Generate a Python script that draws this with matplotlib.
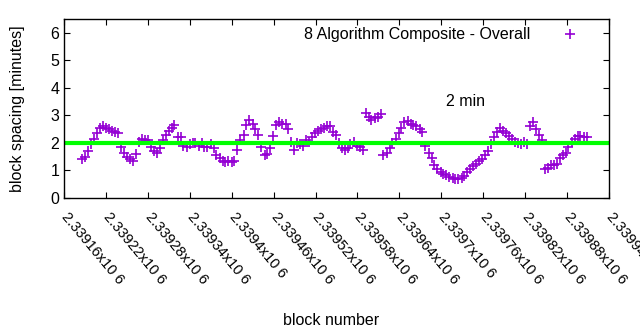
import numpy as np
import matplotlib
matplotlib.use('Agg')
import matplotlib.pyplot as plt

# block spacing values (minutes), left to right
spacing = [
    1.40, 1.50, 1.70, 1.95, 2.15, 2.35, 2.55, 2.60, 2.55, 2.50,
    2.45, 2.40, 2.35, 1.85, 1.65, 1.50, 1.40, 1.35, 1.60, 2.05,
    2.15, 2.10, 2.10, 1.85, 1.70, 1.65, 1.80, 2.10, 2.30, 2.45,
    2.55, 2.65, 2.20, 2.20, 1.90, 1.85, 1.95, 2.00, 2.00, 1.90,
    2.00, 1.85, 1.85, 1.95, 1.80, 1.55, 1.45, 1.35, 1.30, 1.35,
    1.30, 1.35, 1.75, 2.10, 2.30, 2.65, 2.85, 2.70, 2.50, 2.30,
    1.85, 1.55, 1.60, 1.80, 2.25, 2.65, 2.75, 2.70, 2.70, 2.50,
    2.05, 1.75, 2.00, 1.95, 1.90, 2.10, 2.05, 2.20, 2.35, 2.45,
    2.50, 2.55, 2.60, 2.60, 2.40, 2.30, 2.00, 1.80, 1.75, 1.80,
    1.95, 2.05, 1.90, 1.85, 1.75, 3.10, 2.95, 2.85, 2.90, 2.95,
    3.05, 1.55, 1.65, 1.80, 2.00, 2.15, 2.35, 2.55, 2.75, 2.80,
    2.70, 2.65, 2.60, 2.50, 2.40, 1.90, 1.65, 1.45, 1.20, 1.05,
    0.95, 0.88, 0.82, 0.75, 0.72, 0.68, 0.70, 0.72, 0.80, 0.95,
    1.05, 1.15, 1.25, 1.35, 1.40, 1.55, 1.70, 1.95, 2.20, 2.40,
    2.55, 2.45, 2.35, 2.25, 2.15, 2.05, 2.00, 1.95, 2.05, 1.95,
    2.60, 2.75, 2.50, 2.30, 2.10, 1.05, 1.10, 1.20, 1.20, 1.25,
    1.45, 1.55, 1.65, 1.85, 2.05, 2.15, 2.25, 2.25, 2.20, 2.20,
]
first_block = 2339186
last_block = 2339908
blocks = np.linspace(first_block, last_block, len(spacing)).round()

target = 2.0
xticks = [2339160 + 60 * i for i in range(14)]
xlabels = ['2.33916x10 6', '2.33922x10 6', '2.33928x10 6', '2.33934x10 6',
           '2.3394x10 6', '2.33946x10 6', '2.33952x10 6', '2.33958x10 6',
           '2.33964x10 6', '2.3397x10 6', '2.33976x10 6', '2.33982x10 6',
           '2.33988x10 6', '2.33994x10 6']
yticks = [0, 1, 2, 3, 4, 5, 6]

fs = 11.5
plt.rcParams['font.family'] = ['Liberation Sans', 'DejaVu Sans']
fig = plt.figure(figsize=(6.4, 3.3), dpi=100)
ax = fig.add_axes([0.1, 0.4, 0.8516, 0.5424])

ax.plot(blocks, spacing, '+', color='#9400d3', markersize=6.5, mew=1.2,
        label='8 Algorithm Composite - Overall')
ax.axhline(target, color='#00ff00', linewidth=3)
ax.text(2339734, 3.5, '2 min', ha='center', va='center', fontsize=fs)

ax.set_xlim(2339160, 2339940)
ax.set_ylim(0, 6.5)
ax.set_xticks(xticks)
ax.set_xticklabels(xlabels, rotation=-50, ha='left', va='center',
                   rotation_mode='anchor', fontsize=10.5)
ax.set_yticks(yticks)
ax.tick_params(axis='both', direction='in', length=4, top=True, right=True)
ax.tick_params(axis='y', labelsize=fs)
ax.tick_params(axis='x', pad=12)
for s in ax.spines.values():
    s.set_linewidth(1)

ax.set_ylabel('block spacing [minutes]', fontsize=fs)
ax.yaxis.set_label_coords(-0.072, 0.5)
ax.set_xlabel('block number', fontsize=fs)
ax.xaxis.set_label_coords(0.49, -0.64)

leg = ax.legend(loc='upper right', frameon=False, markerfirst=False,
                fontsize=fs, handletextpad=1.5, borderaxespad=0.0,
                bbox_to_anchor=(0.97, 0.99))

fig.savefig('out.png', dpi=100)
